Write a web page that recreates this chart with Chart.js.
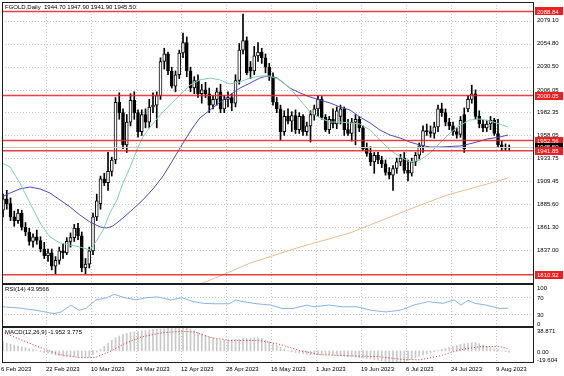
<!DOCTYPE html>
<html>
<head>
<meta charset="utf-8">
<script src="https://cdn.jsdelivr.net/npm/chart.js@4.4.0/dist/chart.umd.min.js"></script>
<style>
  html, body { margin: 0; padding: 0; background: #fff; }
  #wrap { position: relative; width: 564px; height: 376px; overflow: hidden; }
  canvas { position: absolute; left: 0; }
</style>
</head>
<body>
<div id="wrap">
  <canvas id="mainChart" width="564" height="284" style="top:0px"></canvas>
  <canvas id="rsiChart" width="564" height="43" style="top:284px"></canvas>
  <canvas id="macdChart" width="564" height="49" style="top:327px"></canvas>
</div>
<script>
// ============================================================
// FGOLD daily - candles, MAs, RSI(14), MACD(12,26,9)
// ============================================================

// ---- candles (one per trading day, 6 Feb -> 11 Aug 2023) ----
const openP = [1879,1891,1886,1872,1868,1876,1861,1856,1846,1851,1847,1838,1831,1834,1820,1826,1836,1834,1846,1850,
  1860,1852,1818,1822,1836,1872,1886,1912,1908,1920,1932,1993,1982,1948,1972,1995,1982,1962,1980,1972,
  1988,1990,2000,2036,2044,2026,2010,2022,2045,2056,2026,2008,2016,2002,2006,2002,1990,1996,2004,1986,
  1996,1998,1992,2016,2048,2058,2030,2026,2042,2046,2040,2030,2020,1993,1986,1962,1978,1973,1979,1964,
  1978,1962,1968,1980,1986,1996,1977,1964,1975,1970,1978,1986,1964,1960,1972,1975,1966,1944,1939,1930,
  1937,1932,1928,1919,1916,1923,1930,1934,1921,1918,1930,1937,1947,1963,1962,1960,1967,1986,1982,1972,
  1968,1962,1959,1980,1986,1996,2002,1978,1970,1966,1970,1974,1960,1948,1945,1944.7];
const highP = [1896,1900,1892,1878,1880,1879,1866,1860,1854,1858,1851,1845,1838,1838,1830,1840,1844,1850,1855,1864,
  1865,1856,1828,1840,1876,1896,1915,1918,1940,1935,1998,2003,1986,1980,2002,2004,1985,1985,1986,1996,
  2003,2004,2040,2050,2046,2030,2026,2048,2066,2062,2030,2020,2022,2012,2014,2008,2000,2008,2012,2000,
  2004,2002,2022,2055,2086,2062,2036,2052,2056,2050,2044,2034,2024,1998,1990,1984,1986,1983,1985,1982,
  1980,1972,1984,1990,2000,1999,1980,1978,1986,1988,1990,1988,1975,1976,1980,1978,1968,1950,1946,1940,
  1940,1936,1932,1924,1926,1934,1938,1940,1932,1934,1940,1950,1968,1970,1968,1972,1990,1992,1986,1976,
  1972,1966,1978,1987,2000,2011,2006,1984,1974,1974,1978,1976,1975,1952,1949,1947.9];
const lowP = [1872,1880,1868,1862,1865,1858,1852,1842,1840,1843,1835,1828,1825,1816,1812,1822,1828,1832,1840,1846,
  1848,1814,1812,1818,1832,1868,1880,1905,1900,1915,1928,1975,1944,1940,1968,1975,1956,1958,1966,1966,
  1982,1966,1996,2028,2022,2008,2004,2018,2040,2020,2004,2002,1998,1992,1998,1982,1986,1990,1982,1982,
  1988,1984,1988,2012,2044,2022,2018,2022,2036,2034,2024,2016,1990,1982,1953,1958,1970,1962,1960,1960,
  1958,1958,1951,1974,1978,1975,1962,1960,1966,1965,1970,1958,1958,1952,1948,1962,1942,1936,1926,1918,
  1928,1924,1916,1912,1900,1918,1926,1918,1910,1915,1926,1933,1940,1958,1956,1955,1962,1978,1968,1964,
  1958,1955,1956,1940,1983,1992,1975,1966,1962,1962,1964,1958,1945,1942,1942,1941.9];
const closeP = [1891,1886,1872,1868,1876,1861,1856,1846,1851,1847,1838,1831,1834,1820,1826,1836,1834,1846,1850,1860,
  1852,1818,1822,1836,1872,1889,1912,1908,1920,1932,1993,1982,1948,1972,1995,1982,1962,1980,1972,1988,
  1990,2000,2036,2044,2026,2010,2022,2045,2056,2026,2008,2016,2002,2006,2002,1990,1996,2004,1986,1996,
  1998,1992,2016,2048,2058,2024,2026,2042,2046,2040,2030,2020,1993,1986,1962,1978,1973,1979,1964,1978,
  1962,1968,1980,1986,1996,1977,1964,1975,1970,1984,1986,1964,1960,1972,1975,1966,1944,1939,1930,1937,
  1932,1928,1919,1916,1923,1930,1934,1921,1918,1930,1937,1947,1963,1962,1960,1967,1986,1982,1972,1968,
  1962,1959,1974,1944,1996,2002,1978,1970,1966,1970,1974,1960,1948,1945,1944.5,1945.5];

// ---- moving averages (bar index, price) ----
const fastIdx = [-0.3,1.9,4.5,7.2,9.9,12.5,15.2,17.9,20.5,23.2,25.1,26.7,28.5,30.4,32.0,33.9,35.7,37.3,39.2,41.9,
  44.5,47.2,49.9,52.5,55.2,57.9,60.5,63.2,65.9,68.5,71.2,73.9,76.5,79.2,81.9,84.5,87.2,89.9,92.5,95.2,
  97.9,100.5,103.2,105.9,108.5,111.2,113.9,116.5,119.2,121.9,124.5,127.2,129.9,132.5,134.7];
const fastVal = [1928.8,1924.6,1907.7,1886.6,1865.5,1850.7,1844.4,1842.2,1840.1,1837.0,1847.5,1858.1,1876.0,1889.8,1907.7,1924.6,1942.6,1956.3,1966.8,1979.5,
  1990.1,2000.6,2011.2,2016.5,2018.6,2016.5,2012.3,2014.4,2018.6,2020.7,2020.7,2016.5,2008.0,1995.4,1982.7,1976.4,1972.1,1972.1,1971.1,1970.0,
  1963.7,1953.1,1942.6,1935.2,1929.9,1932.0,1939.4,1949.9,1960.5,1968.9,1974.2,1975.3,1973.2,1970.0,1966.8];
const slowIdx = [-0.3,1.9,4.5,7.2,9.9,12.5,15.2,17.9,20.5,23.2,25.9,27.7,29.3,32.0,34.7,37.3,40.0,42.7,45.3,48.0,
  50.7,52.5,55.2,57.9,60.5,63.2,65.9,68.5,70.4,73.1,76.5,79.2,81.9,84.5,87.2,89.9,92.5,95.2,97.9,100.5,
  103.2,105.9,108.5,111.2,113.9,116.5,121.9,125.3,129.1,132.5,134.7];
const slowVal = [1892.9,1897.2,1901.4,1903.5,1901.4,1897.2,1889.8,1882.4,1873.9,1866.5,1861.3,1860.2,1862.3,1870.8,1880.3,1889.8,1901.4,1915.1,1932.0,1949.9,
  1966.8,1976.4,1984.8,1993.2,2000.6,2008.0,2013.3,2018.6,2020.7,2018.6,2008.0,2002.8,1998.5,1995.4,1992.2,1988.0,1984.8,1977.4,1971.1,1963.7,
  1958.4,1955.2,1951.0,1947.8,1945.7,1945.7,1946.8,1949.9,1954.2,1956.3,1958.4];
const longIdx = [51.2,57.9,65.9,79.2,92.5,100.5,109.3,118.4,127.2,134.7];
const longVal = [1798.9,1809.5,1823.2,1840.1,1854.9,1867.6,1881.3,1895.0,1904.5,1913.0];

// ---- RSI(14) ----
const rsiIdx = [-0.3,4.5,8.8,13.6,15.5,18.1,20.3,22.1,24.8,27.7,29.6,32.5,35.5,38.1,41.1,44.8,47.7,50.7,53.6,56.3,
  60.3,62.1,64.0,67.7,71.5,74.4,77.3,81.1,82.9,86.9,90.7,94.4,98.1,102.1,105.9,109.6,113.3,117.3,120.3,122.1,
  124.0,125.9,128.8,132.5,134.7];
const rsiVal = [47,44,39,31,35,51,39,43,63,68,76,68,63,68,70,63,68,59,55,54,
  54,63,59,54,51,43,43,51,47,51,47,47,39,35,39,51,59,55,63,51,
  62,55,51,43,44];

// ---- MACD(12,26,9): main histogram per bar, signal read at points ----
const macdMain = [14.2,12.6,11.0,9.4,7.8,6.5,5.0,3.5,2.0,0.3,-1.2,-2.5,-3.8,-5.1,-6.4,-7.7,-8.4,-8.8,-9.2,-9.6,
  -10,-10,-10,-10,-6,-2,2.6,7.5,12.4,17.2,21.5,24.3,26.5,28.3,30.1,30.9,31.6,32.4,33.1,33.9,
  34.5,35.0,35.6,36.1,36.7,37.3,37.8,38.3,38.8,38.4,35.5,33.0,30.2,28.0,25.7,23.3,21.2,19.0,17.0,17.4,
  17.8,18.2,18.6,19.0,19.5,20.0,20.6,21.2,21.8,20.5,17.5,14.7,11.6,8.8,6.0,3.3,0.5,-1.4,-2.4,-3.3,
  -4.3,-5.2,-6,-6,-6,-6,-6,-6,-6.5,-7.2,-7.8,-8.5,-9.2,-9.8,-10.5,-11.1,-11.8,-12.4,-13.1,-14.0,
  -15.0,-15.9,-16.9,-17.9,-18.6,-19.2,-19.4,-17.4,-15.5,-13.4,-11.0,-8.5,-6.8,-4.9,-3.1,-1.2,0.7,2.5,4.1,5.7,
  7.3,8.9,10.7,11.6,12.5,13.4,13.8,11.7,9.6,7.5,5.4,3.7,2.1,0.5,-1.0,-1.952];
const signalIdx = [-0.3,4.5,9.9,15.2,20.5,24.5,28.5,32.5,36.5,41.9,47.2,51.2,55.2,60.5,68.5,73.9,79.2,84.5,92.5,100.5,
  105.9,111.2,116.5,121.9,127.2,132.5,134.7];
const signalVal = [30.6,19,5.5,-6,-11,-11,-1,12,22,29,32,30.6,22,17,17,10.5,0.5,-6,-8,-9.5,
  -13.5,-14.5,-8,2,7,7,3.775];

// ---- axes / levels ----
const dateIdx = [0,12,24,36,48,60,72,84,96,108,120,132];
const dateLabels = ["6 Feb 2023","22 Feb 2023","10 Mar 2023","24 Mar 2023","12 Apr 2023","28 Apr 2023",
  "16 May 2023","1 Jun 2023","19 Jun 2023","6 Jul 2023","24 Jul 2023","9 Aug 2023"];
const priceTicks = [2079.10,2054.80,2030.50,2006.05,1982.35,1958.05,1933.75,1909.45,1885.60,1861.30,1837.00];
const redLevels = [2088.84,2000.05,1952.56,1941.85,1810.92];
const bidPrice = 1945.50;
const rsiTicks = [100,70,30,0];
const rsiLevels = [70,30];
const macdTicks = [38.871,0,-19.604];
const macdTickText = ["38.871","0.00","-19.604"];

// ============================================================
// helpers
// ============================================================
const FONT = '6px "Liberation Sans", Arial, sans-serif';
const xRange = { type: "linear", min: -0.27, max: 141.6, offset: false, display: false };

function pts(xs, ys) {
  return xs.map((v, i) => ({ x: v, y: ys[i] }));
}

function drawGrid(ctx, a, x, y, hVals) {
  ctx.save();
  ctx.strokeStyle = "#c4c4c4";
  ctx.lineWidth = 1;
  ctx.setLineDash([1, 2]);
  ctx.beginPath();
  dateIdx.forEach((v) => {
    const px = Math.round(x.getPixelForValue(v)) - 1.5;
    if (px <= a.left + 1) return;
    ctx.moveTo(px, a.top);
    ctx.lineTo(px, a.bottom);
  });
  hVals.forEach((v) => {
    const py = Math.round(y.getPixelForValue(v)) + 0.5;
    ctx.moveTo(a.left, py);
    ctx.lineTo(a.right, py);
  });
  ctx.stroke();
  ctx.restore();
}

function drawFrame(ctx, a) {
  ctx.save();
  ctx.strokeStyle = "#1e1e1e";
  ctx.lineWidth = 1;
  ctx.strokeRect(a.left + 0.5, a.top + 0.5, a.width - 1, a.height - 1);
  ctx.restore();
}

function drawSideLabels(ctx, a, y, vals, texts, shift, clamp) {
  ctx.save();
  ctx.font = FONT;
  ctx.fillStyle = "#000";
  ctx.textAlign = "left";
  ctx.textBaseline = "middle";
  vals.forEach((v, i) => {
    let py = y.getPixelForValue(v) + shift;
    if (clamp) py = Math.min(Math.max(py, a.top + 4), a.bottom - 3);
    ctx.fillText(texts[i], a.right + 3, py);
  });
  ctx.restore();
}

function drawTag(ctx, a, py, text, bg) {
  ctx.save();
  ctx.fillStyle = bg;
  ctx.fillRect(a.right + 1, Math.round(py) - 4, 28, 8);
  ctx.font = FONT;
  ctx.fillStyle = "#fff";
  ctx.textAlign = "left";
  ctx.textBaseline = "middle";
  ctx.fillText(text, a.right + 3, py + 0.5);
  ctx.restore();
}

function drawCaption(ctx, a, text) {
  ctx.save();
  ctx.font = FONT;
  ctx.fillStyle = "#000";
  ctx.textAlign = "left";
  ctx.textBaseline = "middle";
  ctx.fillText(text, a.left + 3, a.top + 5);
  ctx.restore();
}

const baseOptions = (padding, yScale) => ({
  responsive: false,
  animation: false,
  devicePixelRatio: 1,
  events: [],
  layout: { padding },
  plugins: { legend: { display: false }, tooltip: { enabled: false } },
  scales: { x: xRange, y: yScale },
});

// ============================================================
// 1. price panel
// ============================================================
const mainPanel = {
  id: "mainPanel",
  beforeDatasetsDraw(chart) {
    const { ctx, chartArea: a, scales } = chart;
    drawGrid(ctx, a, scales.x, scales.y, priceTicks);
  },
  afterDatasetsDraw(chart) {
    const { ctx, chartArea: a, scales } = chart;
    ctx.save();
    ctx.strokeStyle = "#c8c8c8";
    ctx.lineWidth = 1;
    const pb = Math.round(scales.y.getPixelForValue(bidPrice)) + 0.5;
    ctx.beginPath();
    ctx.moveTo(a.left, pb);
    ctx.lineTo(a.right, pb);
    ctx.stroke();
    ctx.strokeStyle = "rgba(230,30,30,0.85)";
    ctx.lineWidth = 1.5;
    redLevels.forEach((v) => {
      const py = scales.y.getPixelForValue(v);
      ctx.beginPath();
      ctx.moveTo(a.left, py);
      ctx.lineTo(a.right, py);
      ctx.stroke();
    });
    ctx.restore();
  },
  afterDraw(chart) {
    const { ctx, chartArea: a, scales } = chart;
    drawFrame(ctx, a);
    drawSideLabels(ctx, a, scales.y, priceTicks, priceTicks.map((v) => v.toFixed(2)), 0, false);
    const tags = [
      [redLevels[0], "#f01e1e"], [redLevels[1], "#f01e1e"], [redLevels[2], "#f01e1e"],
      [redLevels[4], "#f01e1e"], [bidPrice, "#000000"], [redLevels[3], "#f01e1e"],
    ];
    tags.forEach(([v, bg]) => drawTag(ctx, a, scales.y.getPixelForValue(v), v.toFixed(2), bg));
    drawCaption(ctx, a, "FGOLD,Daily  1944.70 1947.90 1941.90 1945.50");
  },
};

const bodies = openP.map((o, i) => ({ x: i, y: [o, closeP[i]] }));
const wicks = lowP.map((l, i) => ({ x: i, y: [l, highP[i]] }));
const bodyColors = openP.map((o, i) => (closeP[i] >= o ? "#ffffff" : "#000000"));

new Chart(document.getElementById("mainChart"), {
  type: "bar",
  data: {
    datasets: [
      { type: "line", data: pts(fastIdx, fastVal), borderColor: "#82cfaa", borderWidth: 1, pointRadius: 0, order: 0 },
      { type: "line", data: pts(slowIdx, slowVal), borderColor: "#4a4abe", borderWidth: 1, pointRadius: 0, order: 0 },
      { type: "line", data: pts(longIdx, longVal), borderColor: "#e8bd94", borderWidth: 1, pointRadius: 0, order: 0 },
      {
        type: "bar", data: bodies, backgroundColor: bodyColors, borderColor: "#000", borderWidth: 1,
        borderSkipped: false, barThickness: 3, minBarLength: 1, grouped: false, order: 1,
      },
      { type: "bar", data: wicks, backgroundColor: "#000", barThickness: 1, grouped: false, order: 2 },
    ],
  },
  options: baseOptions({ left: 2, right: 30, top: 2, bottom: 0 }, { type: "linear", min: 1801.06, max: 2098.85, display: false }),
  plugins: [mainPanel],
});

// ============================================================
// 2. RSI panel
// ============================================================
const rsiPanel = {
  id: "rsiPanel",
  beforeDatasetsDraw(chart) {
    const { ctx, chartArea: a, scales } = chart;
    drawGrid(ctx, a, scales.x, scales.y, rsiLevels);
  },
  afterDraw(chart) {
    const { ctx, chartArea: a, scales } = chart;
    drawFrame(ctx, a);
    drawSideLabels(ctx, a, scales.y, rsiTicks, rsiTicks.map(String), 1, true);
    drawCaption(ctx, a, "RSI(14) 43.9566");
  },
};

new Chart(document.getElementById("rsiChart"), {
  type: "line",
  data: {
    datasets: [{ data: pts(rsiIdx, rsiVal), borderColor: "#86b6e6", borderWidth: 1, pointRadius: 0 }],
  },
  options: baseOptions({ left: 2, right: 30, top: 0, bottom: 0 }, { type: "linear", min: 0, max: 100, display: false }),
  plugins: [rsiPanel],
});

// ============================================================
// 3. MACD panel + date axis
// ============================================================
const macdPanel = {
  id: "macdPanel",
  beforeDatasetsDraw(chart) {
    const { ctx, chartArea: a, scales } = chart;
    drawGrid(ctx, a, scales.x, scales.y, []);
  },
  afterDraw(chart) {
    const { ctx, chartArea: a, scales } = chart;
    drawFrame(ctx, a);
    drawSideLabels(ctx, a, scales.y, macdTicks, macdTickText, 1, true);
    drawCaption(ctx, a, "MACD(12,26,9) -1.952 3.775");
    ctx.save();
    ctx.font = FONT;
    ctx.fillStyle = "#000";
    ctx.textAlign = "left";
    ctx.textBaseline = "middle";
    dateIdx.forEach((v, i) => {
      const px = Math.max(scales.x.getPixelForValue(v) - 2, 1);
      ctx.fillText(dateLabels[i], px, a.bottom + 6);
    });
    ctx.restore();
  },
};

new Chart(document.getElementById("macdChart"), {
  type: "bar",
  data: {
    datasets: [
      {
        type: "line", data: pts(signalIdx, signalVal), borderColor: "#e02828", borderWidth: 1,
        borderDash: [1, 2], pointRadius: 0, order: 0,
      },
      {
        type: "bar", data: macdMain.map((v, i) => ({ x: i, y: v })), backgroundColor: "#c8c8c8",
        barThickness: 1, grouped: false, order: 1,
      },
    ],
  },
  options: baseOptions({ left: 2, right: 30, top: 0, bottom: 13 }, { type: "linear", min: -19.604, max: 38.871, display: false }),
  plugins: [macdPanel],
});
</script>
</body>
</html>
